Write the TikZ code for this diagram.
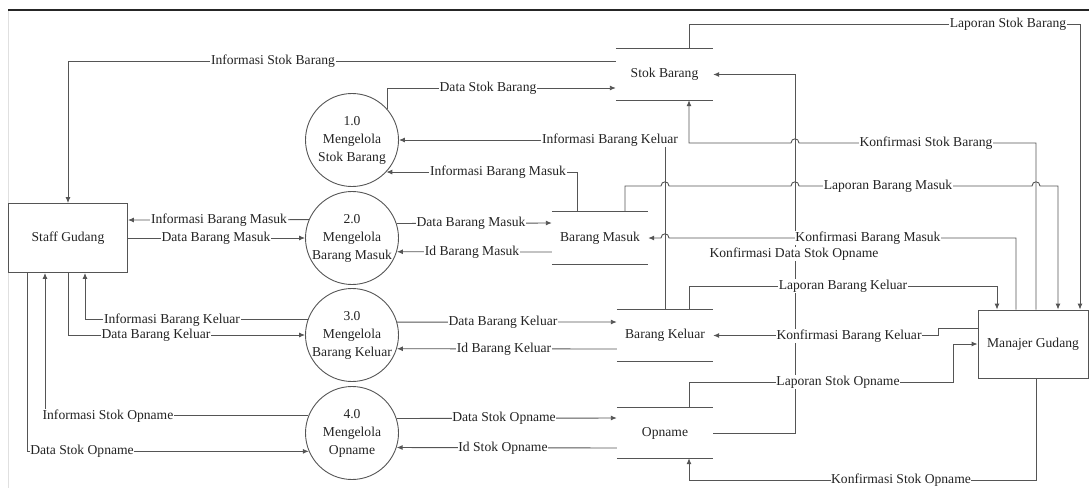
\documentclass[tikz,border=0pt]{standalone}
\usepackage{fontspec}
\setmainfont{Liberation Serif}
\usetikzlibrary{arrows.meta}
\definecolor{ln}{RGB}{85,85,85}
\definecolor{tx}{RGB}{35,35,35}
\begin{document}
\begin{tikzpicture}[x=1pt,y=-1pt,
  font=\fontsize{13.6}{16}\selectfont, text=tx,
  flow/.style={draw=ln, line width=0.9pt, -{Latex[length=6pt,width=5pt]}},
  plain/.style={draw=ln, line width=0.9pt},
  proc/.style={circle, draw=ln, line width=0.9pt, minimum size=93pt, inner sep=0pt},
  ptext/.style={align=center, font=\fontsize{13.6}{18}\selectfont, inner sep=0pt},
  ent/.style={rectangle, draw=ln, line width=0.9pt, inner sep=0pt},
  store/.style={inner sep=0pt},
  lbl/.style={fill=white, inner sep=0.6pt}]
\useasboundingbox (0,0) rectangle (1089,488);
\draw[black!12, line width=0.8pt] (8,10) -- (8,488);
\draw[black!85, line width=1.3pt] (8,10) -- (1089,10);

% entities
\node[ent, minimum width=119pt, minimum height=69pt] (staff) at (68,238) {Staff Gudang};
\node[ent, minimum width=110pt, minimum height=68pt] (mg) at (1033,344) {Manajer Gudang};

% processes
\node[proc] (p1) at (352,140) {};
\node[ptext] (t1) at (p1) {1.0\\Mengelola\\Stok Barang};
\node[proc] (p2) at (352,238) {};
\node[ptext] (t2) at (p2) {2.0\\Mengelola\\Barang Masuk};
\node[proc] (p3) at (352,335) {};
\node[ptext] (t3) at (p3) {3.0\\Mengelola\\Barang Keluar};
\node[proc] (p4) at (352,433) {};
\node[ptext] (t4) at (p4) {4.0\\Mengelola\\Opname};

% data stores
\node[store, minimum width=97pt, minimum height=51pt] (sb) at (664.5,74.5) {Stok Barang};
\node[store, minimum width=96pt, minimum height=52pt] (bm) at (600,238) {Barang Masuk};
\node[store, minimum width=96pt, minimum height=51pt] (bk) at (665,335.5) {Barang Keluar};
\node[store, minimum width=96pt, minimum height=50pt] (op) at (665,433) {Opname};
\foreach \s in {sb,bm,bk,op}{
  \draw[plain] (\s.north west) -- (\s.north east) (\s.south west) -- (\s.south east);
}

% connectors: top area
\draw[flow] (sb.west |- 0,61) -| (staff.north);
\draw[flow] (p1.41.2) |- (sb.west |- 0,88);
\draw[flow] (bk.north) -- (665,140) -- (p1.east);
\draw[flow] (577,0 |- bm.north) |- (p1.-43.5);
\draw[flow] (1036,0 |- mg.north) -- (1036,143) -- (799,143) .. controls (799,137.5) and (791,137.5) .. (791,143) -- (689,143) -- (689,0 |- sb.south);
\draw[flow] (689,0 |- sb.north) |- (1080,24) -- (1080,0 |- mg.north);
\draw[flow] (op.east) -| (sb.east -| 795,0) -- (sb.east);
\draw[flow] (625,0 |- bm.north) -- (625,186) -- (661,186) .. controls (661,180.5) and (669,180.5) .. (669,186) -- (791,186) .. controls (791,180.5) and (799,180.5) .. (799,186) -- (1032,186) .. controls (1032,180.5) and (1040,180.5) .. (1040,186) -- (1058,186) -- (1058,0 |- mg.north);
\draw[flow] (1016,0 |- mg.north) -- (1016,238) -- (669,238) .. controls (669,232.5) and (661,232.5) .. (661,238) -- (bm.east);
\draw[flow] (689,0 |- bk.north) |- (997,286) -- (997,0 |- mg.north);
\draw[flow] (mg.west |- 0,328) -| (bk.east -| 938,0) -- (bk.east);
\draw[flow] (689,0 |- op.north) |- (953,382) |- (mg.west |- 0,344);
\draw[flow] (1036,0 |- mg.south) |- (689,480) -- (689,0 |- op.south);

% connectors: processes to stores
\draw[flow] (p2.18.8) -- (bm.west |- 0,223);
\draw[flow] (bm.west |- 0,252) -- (p2.-17.5);
\draw[flow] (p3.16.2) -- (bk.west |- 0,322);
\draw[flow] (bk.west |- 0,349) -- (p3.-17.5);
\draw[flow] (p4.18.8) -- (op.west |- 0,418);
\draw[flow] (op.west |- 0,448) -- (p4.-18.8);

% connectors: staff to processes
\draw[flow] (p2.157.2) -- (staff.east |- 0,220);
\draw[flow] (staff.east) -- (p2.west);
\draw[flow] (p3.161.2) -| (85,0 |- staff.south);
\draw[flow] (staff.south) |- (p3.west);
\draw[flow] (p4.158.6) -| (45,0 |- staff.south);
\draw[flow] (27,0 |- staff.south) |- (p4.-157.2);

% labels
\node[lbl] (l1) at (273,61) {Informasi Stok Barang};
\node[lbl] (l2) at (488,88) {Data Stok Barang};
\node[lbl] (l3) at (610,140) {Informasi Barang Keluar};
\node[lbl] (l4) at (498,172) {Informasi Barang Masuk};
\node[lbl] (l5) at (926,143) {Konfirmasi Stok Barang};
\node[lbl] (l6) at (1008,24) {Laporan Stok Barang};
\node[lbl] (l7) at (888,186) {Laporan Barang Masuk};
\node[lbl] (l8) at (868,238) {Konfirmasi Barang Masuk};
\node[lbl] (l9) at (794,254) {Konfirmasi Data Stok Opname};
\node[lbl] (l10) at (843,286) {Laporan Barang Keluar};
\node[lbl] (l11) at (849,336) {Konfirmasi Barang Keluar};
\node[lbl] (l12) at (838,382) {Laporan Stok Opname};
\node[lbl] (l13) at (901,480) {Konfirmasi Stok Opname};
\node[lbl] (l14) at (471,223) {Data Barang Masuk};
\node[lbl] (l15) at (472,252) {Id Barang Masuk};
\node[lbl] (l16) at (503,322) {Data Barang Keluar};
\node[lbl] (l17) at (504,349) {Id Barang Keluar};
\node[lbl] (l18) at (504,418) {Data Stok Opname};
\node[lbl] (l19) at (503,448) {Id Stok Opname};
\node[lbl] (l20) at (219,220) {Informasi Barang Masuk};
\node[lbl] (l21) at (216,238) {Data Barang Masuk};
\node[lbl] (l22) at (172,320) {Informasi Barang Keluar};
\node[lbl] (l23) at (156,335) {Data Barang Keluar};
\node[lbl] (l24) at (108,416) {Informasi Stok Opname};
\node[lbl] (l25) at (82,451) {Data Stok Opname};
\end{tikzpicture}
\end{document}
